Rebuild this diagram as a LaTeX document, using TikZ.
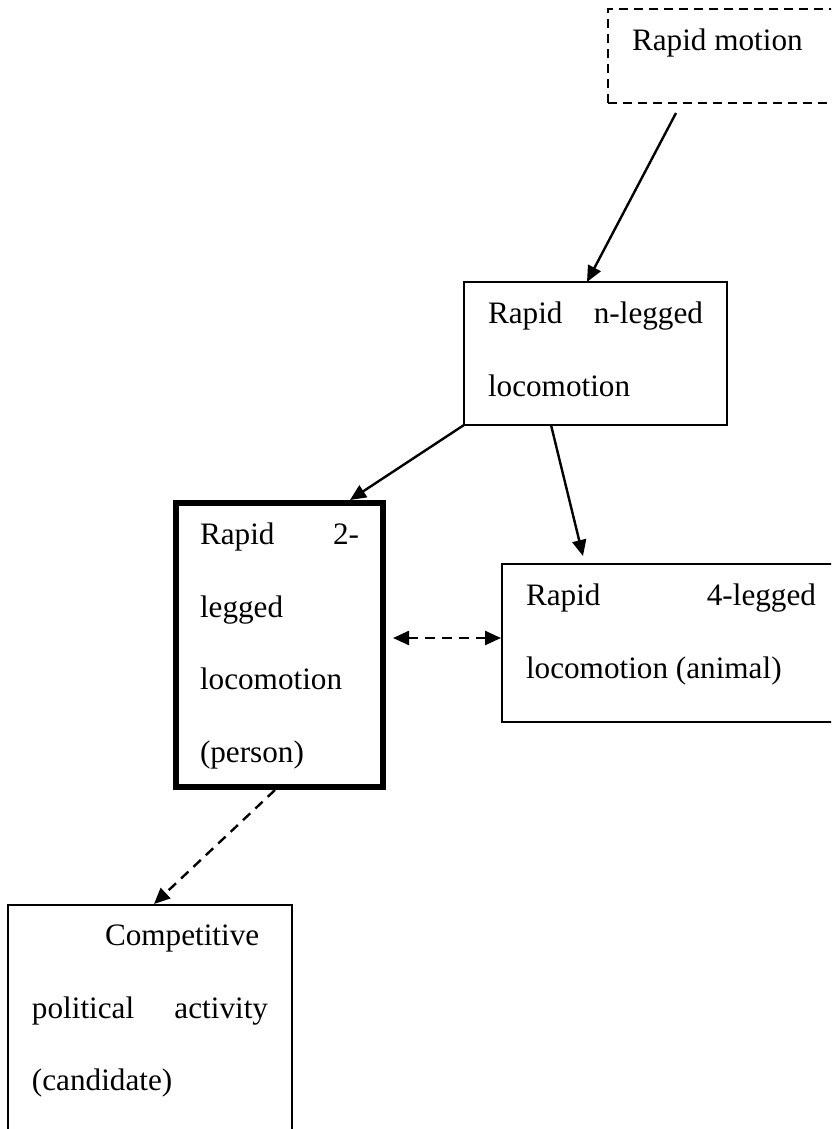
\documentclass[tikz,border=0pt]{standalone}
\usepackage{fontspec}
\setmainfont{Liberation Serif}
\usepackage{tikz}
\usetikzlibrary{arrows.meta, positioning}

\begin{document}
\begin{tikzpicture}[
  x=0.5pt, y=-0.5pt,
  cbox/.style={draw, line width=1pt, anchor=north west, outer sep=0pt, inner xsep=12pt, inner ysep=10pt, font=\fontsize{15.6}{36.25}\selectfont},
  thickbox/.style={cbox, line width=3pt},
  dashbox/.style={cbox, dash pattern=on 4.5pt off 3pt},
  arr/.style={line width=1.2pt, -{Triangle[length=8pt, width=7pt]}},
  darr/.style={arr, dash pattern=on 5pt off 3.5pt}
]
  \useasboundingbox (0,0) rectangle (831,1129);
  \clip (0,0) rectangle (831,1129);

  % boxes
  \node[dashbox] (motion) at (608, 9) {\parbox[c][27pt][t]{100pt}{Rapid motion}};
  \node[cbox] (nlegged) at (464, 282) {\parbox[c][51.5pt][t]{107.5pt}{Rapid\hfill n-legged\\locomotion}};
  \node[thickbox] (twolegged) at (176, 503) {\parbox[c][122pt][t]{79.5pt}{Rapid\hfill 2-\\legged\\locomotion\\(person)}};
  \node[cbox] (fourlegged) at (502, 564) {\parbox[c][59pt][t]{145pt}{Rapid\hfill 4-legged\\locomotion (animal)}};
  \node[cbox] (political) at (8, 905) {\parbox[c][150pt][t]{118pt}{\hspace*{36.5pt}Competitive\\political\hfill activity\\(candidate)}};

  % links
  \draw[arr] ([xshift=34pt, yshift=-5pt]motion.south west) -- ([xshift=61.5pt]nlegged.north west);
  \draw[arr] (nlegged.south west) -- ([xshift=87pt, yshift=1.5pt]twolegged.north west);
  \draw[arr] ([xshift=43.5pt]nlegged.south west) -- ([xshift=40.5pt, yshift=4pt]fourlegged.north west);
  \draw[darr, {Triangle[length=8pt, width=7pt]}-{Triangle[length=8pt, width=7pt]}] ([xshift=5pt, yshift=3.5pt]twolegged.east) -- ([xshift=-0.5pt, yshift=2.5pt]fourlegged.west);
  \draw[darr] ([xshift=49.5pt, yshift=-1.5pt]twolegged.south west) -- ([xshift=73pt, yshift=0.5pt]political.north west);
\end{tikzpicture}
\end{document}
